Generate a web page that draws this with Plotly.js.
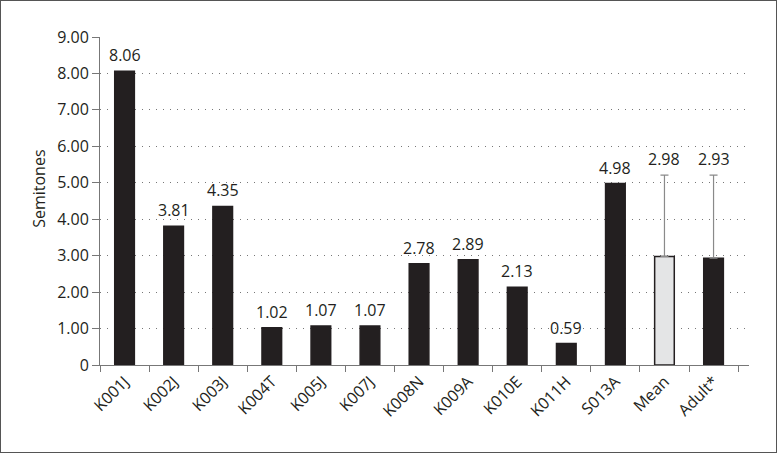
<!DOCTYPE html>
<html>
<head>
<meta charset="utf-8">
<script src="https://cdn.plot.ly/plotly-3.0.1.min.js"></script>
<style>
html,body{margin:0;padding:0;background:#fff;}
#frame{width:777px;height:453px;box-sizing:border-box;border:1.5px solid #555;overflow:hidden;}
#chart{width:774px;height:450px;}
</style>
</head>
<body>
<div id="frame"><div id="chart"></div></div>
<script>
const categories = ["K001J","K002J","K003J","K004T","K005J","K007J","K008N","K009A","K010E","K011H","S013A","Mean","Adult*"];
const values = [8.06,3.81,4.35,1.02,1.07,1.07,2.78,2.89,2.13,0.59,4.98,2.98,2.93];
const errorsUp = [0,0,0,0,0,0,0,0,0,0,0,2.23,2.28];
const labels = ["8.06","3.81","4.35","1.02","1.07","1.07","2.78","2.89","2.13","0.59","4.98","2.98","2.93"];
const yTickVals = [0,1,2,3,4,5,6,7,8,9];
const yTickText = ["0","1.00","2.00","3.00","4.00","5.00","6.00","7.00","8.00","9.00"];
const yTitle = "Semitones";

const dark = "#231f20";
const FONT = "Open Sans, Noto Sans, sans-serif";
const FS = 16;
const fills = categories.map(c => c === "Mean" ? "#e4e5e6" : dark);

const barTrace = {
  type: "bar",
  x: categories,
  y: values,
  marker: {color: fills, line: {color: dark, width: 1.5}},
  hoverinfo: "none"
};

const errIdx = errorsUp.map((e, i) => e > 0 ? i : -1).filter(i => i >= 0);
const errTrace = {
  type: "scatter", mode: "markers",
  x: errIdx.map(i => categories[i]),
  y: errIdx.map(i => values[i]),
  marker: {size: 1, opacity: 0},
  error_y: {
    type: "data", symmetric: false,
    array: errIdx.map(i => errorsUp[i]),
    arrayminus: errIdx.map(() => 0),
    color: "#8a8a8a", thickness: 1.2, width: 4, visible: true
  },
  hoverinfo: "none"
};

const annotations = categories.map((c, i) => ({
  x: c, y: values[i] + errorsUp[i], xref: "x", yref: "y",
  text: labels[i], showarrow: false, yanchor: "bottom", yshift: 3,
  font: {family: FONT, size: FS, color: dark}
}));
annotations.push({
  xref: "paper", yref: "paper", x: -0.094, y: 0.537,
  xanchor: "center", yanchor: "middle", textangle: -90,
  text: yTitle, showarrow: false,
  font: {family: FONT, size: FS, color: dark}
});

const layout = {
  width: 774, height: 450,
  margin: {l: 99, r: 26, t: 36, b: 86},
  paper_bgcolor: "#fff", plot_bgcolor: "#fff",
  bargap: 0.6,
  showlegend: false,
  font: {family: FONT, size: FS, color: dark},
  xaxis: {
    type: "category",
    tickangle: -45,
    ticks: "outside", ticklen: 6, tickcolor: "#777", tickwidth: 1,
    tickson: "boundaries",
    showline: true, linecolor: "#777", linewidth: 1,
    showgrid: false, zeroline: false,
    tickfont: {family: FONT, size: FS, color: dark}
  },
  yaxis: {
    range: [0, 9], tickvals: yTickVals, ticktext: yTickText,
    ticks: "outside", ticklen: 7, tickcolor: "#777", tickwidth: 1,
    showline: true, linecolor: "#777", linewidth: 1,
    showgrid: true, gridcolor: "#777", griddash: "1px,6px", gridwidth: 1.2,
    zeroline: false,
    tickfont: {family: FONT, size: FS, color: dark}
  },
  annotations: annotations
};

Plotly.newPlot("chart", [barTrace, errTrace], layout, {displayModeBar: false, staticPlot: true});
</script>
</body>
</html>
